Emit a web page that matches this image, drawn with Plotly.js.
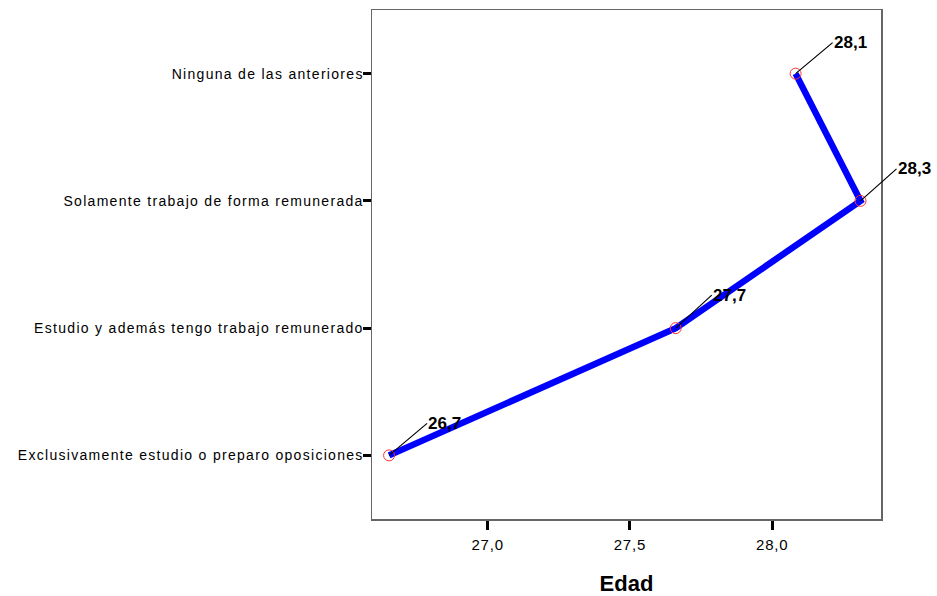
<!DOCTYPE html>
<html>
<head>
<meta charset="utf-8">
<script src="https://cdn.plot.ly/plotly-3.0.1.min.js"></script>
<style>
  html, body { margin: 0; padding: 0; background: #fff; }
  #chart { width: 937px; height: 596px; }
  .ytick text { letter-spacing: 1.3px; }
  .xtick text { letter-spacing: 0.8px; }
</style>
</head>
<body>
<div id="chart"></div>
<script>
// Data
const categories = [
  "Exclusivamente estudio o preparo oposiciones",
  "Estudio y además tengo trabajo remunerado",
  "Solamente trabajo de forma remunerada",
  "Ninguna de las anteriores"
];
const edadMedia = [26.654, 27.661, 28.31, 28.082];
const etiquetas = ["26,7", "27,7", "28,3", "28,1"];
const xTickVals = [27.0, 27.5, 28.0];
const xTickText = ["27,0", "27,5", "28,0"];
const labelOffsetX = [38, 36, 36, 37];
const labelOffsetY = [-32, -33, -32, -31];

const trace = {
  type: "scatter",
  mode: "lines+markers",
  x: edadMedia,
  y: categories,
  line: { color: "#0000ff", width: 6.5 },
  marker: { symbol: "circle-open", size: 11, color: "#ff3333", line: { width: 1, color: "#ff3333" } },
  hoverinfo: "skip",
  cliponaxis: false
};

const annotations = edadMedia.map((v, i) => ({
  x: v, y: categories[i], xref: "x", yref: "y",
  text: etiquetas[i],
  showarrow: true, arrowhead: 0, arrowwidth: 1.2, arrowcolor: "#000",
  ax: labelOffsetX[i], ay: labelOffsetY[i],
  xanchor: "left", yanchor: "middle",
  font: { family: "Liberation Sans, Arial, sans-serif", size: 17, color: "#000", weight: "bold" },
  borderpad: 0
}));

const layout = {
  width: 937, height: 596,
  margin: { l: 372, r: 56, t: 10, b: 77 },
  paper_bgcolor: "#fff", plot_bgcolor: "#fff",
  showlegend: false,
  font: { family: "Liberation Sans, Arial, sans-serif", color: "#000" },
  xaxis: {
    range: [26.594, 28.382],
    tickvals: xTickVals, ticktext: xTickText,
    ticks: "outside", ticklen: 9, tickwidth: 3, tickcolor: "#000",
    showgrid: false, zeroline: false,
    showline: true, linecolor: "#666", linewidth: 1.5, mirror: true,
    tickfont: { size: 15, color: "#000" },
    ticklabelstandoff: 2,
    title: { text: "<b>Edad</b>", font: { size: 22, color: "#000" }, standoff: 24 }
  },
  yaxis: {
    type: "category",
    categoryorder: "array", categoryarray: categories,
    range: [-0.5, 3.5],
    ticks: "outside", ticklen: 8, tickwidth: 3, tickcolor: "#000",
    showgrid: false, zeroline: false,
    showline: true, linecolor: "#666", linewidth: 1.5, mirror: true,
    tickfont: { size: 14, color: "#000" },
    ticklabelstandoff: -4
  },
  annotations: annotations
};

Plotly.newPlot("chart", [trace], layout, { displayModeBar: false, staticPlot: true });
</script>
</body>
</html>
